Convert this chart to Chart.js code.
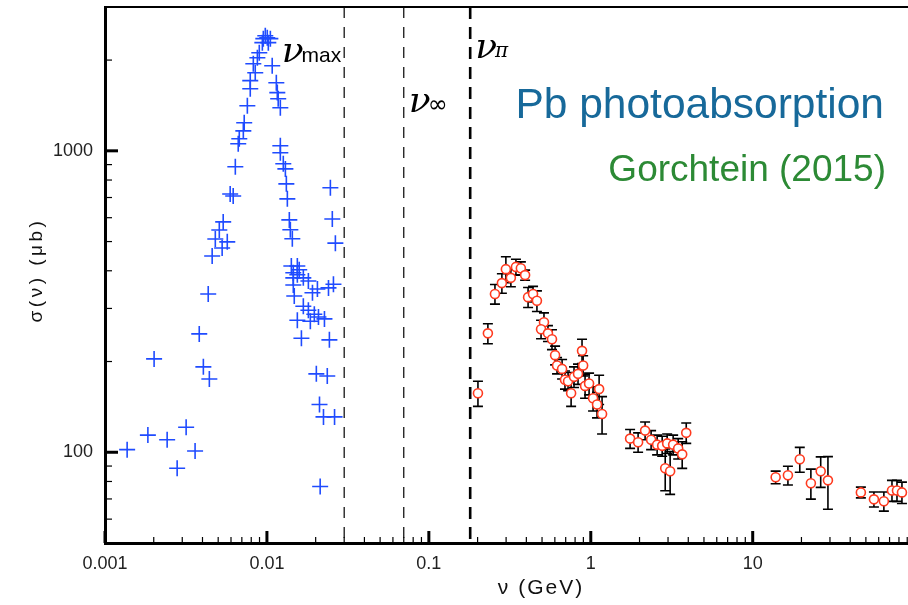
<!DOCTYPE html>
<html>
<head>
<meta charset="utf-8">
<script src="https://cdn.jsdelivr.net/npm/chart.js@4.4.1/dist/chart.umd.min.js"></script>
<style>
  html, body { margin: 0; background: #fff; overflow: hidden; }
  #wrap { width: 908px; height: 605px; position: relative; }
</style>
</head>
<body>
<div id="wrap"><canvas id="c"></canvas></div>
<script>
// Pb photoabsorption cross section, sigma(nu) in microbarn vs nu in GeV
// low-energy data (blue crosses)
const lowNu = [0.00137, 0.00184, 0.00201, 0.00242, 0.00279, 0.00317, 0.0036, 0.00382, 0.00405, 0.00441,
  0.00434, 0.00459, 0.0048, 0.00508, 0.00529, 0.00569, 0.00537, 0.00593, 0.00619, 0.00638,
  0.00665, 0.00675, 0.00715, 0.00724, 0.00757, 0.00789, 0.00789, 0.00847, 0.00824, 0.00873,
  0.00897, 0.00937, 0.0095, 0.01005, 0.00977, 0.0102, 0.0105, 0.01078, 0.01143, 0.01159,
  0.01174, 0.0121, 0.0121, 0.0121, 0.01262, 0.013, 0.01318, 0.01337, 0.01375, 0.01395,
  0.01435, 0.02465, 0.02534, 0.02647, 0.01415, 0.01541, 0.01583, 0.01455, 0.01541, 0.01678,
  0.01455, 0.01803, 0.02575, 0.024, 0.0205, 0.01911, 0.01455, 0.01475, 0.01678, 0.01803,
  0.01962, 0.02081, 0.02266, 0.01541, 0.01854, 0.01633, 0.02431, 0.02019, 0.02359, 0.02112,
  0.02235, 0.02616, 0.02132];
const lowSigma = [102, 114, 204, 110, 88.5, 121, 101, 247, 192, 175,
  335, 448, 510, 546, 476, 499, 581, 719, 708, 885,
  1055, 1096, 1165, 1239, 1411, 1607, 1709, 1815, 1945, 2037,
  2116, 2285, 2356, 2372, 2409, 2285, 2356, 1915, 1682, 1560,
  1489, 1390, 1039, 985, 906, 871, 777, 693, 590, 547,
  511, 754, 594, 494, 415, 415, 403, 394, 388, 379,
  379, 370, 361, 351, 348, 338, 359, 330, 305, 296,
  287, 281, 277, 274, 272, 239, 236, 182, 179, 144,
  131, 131, 77];

// high-energy data with error bars (red circles)
const highNu = [0.201, 0.2315, 0.256, 0.2825, 0.299, 0.321, 0.345, 0.370, 0.393, 0.410,
  0.440, 0.465, 0.514, 0.493, 0.544, 0.576, 0.602, 0.619, 0.665, 0.693,
  0.724, 0.756, 0.788, 0.834, 0.883, 0.897, 0.922, 0.976, 1.033, 1.093,
  1.126, 1.174, 1.749, 1.960, 2.165, 2.358, 2.569, 2.760, 2.963, 3.226,
  3.465, 3.669, 3.886, 2.882, 3.091, 13.86, 16.5, 19.53, 22.87, 26.3,
  29.15, 46.55, 56.06, 64.57, 72.46, 77.8, 83.5];
const highSigma = [157, 248, 335, 364, 405, 379, 412, 408, 387, 327,
  335, 318, 270, 256, 248, 237, 210, 194, 189, 174,
  172, 157, 178, 182, 217, 194, 166, 169, 151, 144,
  162, 134, 111, 108, 118, 110, 106, 105, 107, 106,
  103, 98.4, 116, 88.5, 86.5, 82.6, 83.9, 94.8, 78.9, 86.5,
  80.7, 73.6, 69.8, 68.8, 74.7, 74.7, 73.6];
const highErr = [15, 19, 25, 27, 40, 25, 25, 20, 15, 25,
  20, 25, 20, 18, 15, 18, 15, 12, 14, 12,
  12, 15, 14, 14, 20, 15, 15, 14, 14, 14,
  18, 19, 8, 8, 8, 8, 8, 8, 8, 8,
  8, 10, 9, 14, 14, 4, 6, 9, 9, 10,
  16, 3, 4, 5, 6, 6, 6];

// threshold lines: nu_max, nu_inf, nu_pi
const thresholdNu = [0.03, 0.07, 0.18];

// axes
const xRange = [0.001, 91];
const yRange = [50, 3000];
const xMajor = [0.001, 0.01, 0.1, 1, 10];
const xMajorLabels = ["0.001", "0.01", "0.1", "1", "10"];
const yMajor = [10, 100, 1000];
const yMajorLabels = ["10", "100", "1000"];

const BLUE = "#1f4bff", RED = "#ff3a1f";
const TICK_FONT = { family: "'Liberation Sans', Arial, sans-serif", size: 18 };

// log ticks: majors from arrays, minors 2..9 in each decade
function logTicks(majors, lo, hi) {
  const out = [];
  majors.forEach((m) => {
    for (let k = 1; k <= 9; k++) {
      const v = m * k;
      if (v >= lo * 0.999 && v <= hi * 1.001) out.push({ value: v });
    }
  });
  return out;
}
const isMajor = (v) => Math.abs(Math.log10(v) - Math.round(Math.log10(v))) < 1e-6;
function labelFor(v, majors, labels) {
  const i = majors.findIndex((m) => Math.abs(m - v) / m < 1e-6);
  return i >= 0 ? labels[i] : "";
}

// error bars under the circles
const errorBars = {
  id: "errorBars",
  beforeDatasetsDraw(chart) {
    const { ctx, scales: { x, y } } = chart;
    ctx.save();
    ctx.strokeStyle = "#000";
    ctx.lineWidth = 1.6;
    highNu.forEach((nu, i) => {
      const px = x.getPixelForValue(nu);
      const top = y.getPixelForValue(highSigma[i] + highErr[i]);
      const bot = y.getPixelForValue(highSigma[i] - highErr[i]);
      ctx.beginPath();
      ctx.moveTo(px, top); ctx.lineTo(px, bot);
      ctx.moveTo(px - 5, top); ctx.lineTo(px + 5, top);
      ctx.moveTo(px - 5, bot); ctx.lineTo(px + 5, bot);
      ctx.stroke();
    });
    ctx.restore();
  },
};

// inward ticks, top frame, labels and axis titles
const decor = {
  id: "decor",
  afterDraw(chart) {
    const { ctx, chartArea: a, scales: { x, y } } = chart;
    ctx.save();
    ctx.strokeStyle = "#000";
    x.ticks.forEach((t) => {
      const px = x.getPixelForValue(t.value);
      const big = isMajor(t.value);
      ctx.lineWidth = big ? 3 : 1.2;
      ctx.beginPath(); ctx.moveTo(px, a.bottom); ctx.lineTo(px, a.bottom - (big ? 12 : 6)); ctx.stroke();
    });
    y.ticks.forEach((t) => {
      const py = y.getPixelForValue(t.value);
      const big = isMajor(t.value);
      ctx.lineWidth = big ? 3 : 1.2;
      ctx.beginPath(); ctx.moveTo(a.left, py); ctx.lineTo(a.left + (big ? 13 : 7), py); ctx.stroke();
    });
    // top frame line
    ctx.lineWidth = 2;
    ctx.beginPath(); ctx.moveTo(a.left, a.top); ctx.lineTo(chart.width, a.top); ctx.stroke();

    // threshold labels
    ctx.fillStyle = "#000";
    ctx.textBaseline = "alphabetic";
    const nuFont = "italic 36px 'DejaVu Serif', serif";
    const subFont = "21px 'Liberation Sans', Arial, sans-serif";
    const x0 = x.getPixelForValue(thresholdNu[0]);
    ctx.font = subFont; ctx.textAlign = "right";
    ctx.fillText("max", x0 - 3, 62);
    const wMax = ctx.measureText("max").width;
    ctx.font = nuFont;
    ctx.fillText("ν", x0 - 1 - wMax, 62);

    const x1 = x.getPixelForValue(thresholdNu[1]);
    ctx.textAlign = "left";
    ctx.font = nuFont; ctx.fillText("ν", x1 + 5, 112);
    const wNu = ctx.measureText("ν").width;
    ctx.font = "24px 'DejaVu Sans', sans-serif"; ctx.fillText("∞", x1 + wNu + 2, 112);

    const x2 = x.getPixelForValue(thresholdNu[2]);
    ctx.font = nuFont; ctx.fillText("ν", x2 + 5, 58);
    ctx.font = "italic 20px 'DejaVu Serif', serif"; ctx.fillText("π", x2 + wNu + 3, 57);

    // headline texts
    ctx.textAlign = "right";
    ctx.fillStyle = "#17699a";
    ctx.font = "42.5px 'Liberation Sans', Arial, sans-serif";
    ctx.fillText("Pb photoabsorption", 884, 118);
    ctx.fillStyle = "#2c8a35";
    ctx.font = "37px 'Liberation Sans', Arial, sans-serif";
    ctx.fillText("Gorchtein (2015)", 886, 181);

    // axis titles
    ctx.fillStyle = "#111";
    ctx.textAlign = "center";
    ctx.font = "21px 'Liberation Sans', Arial, sans-serif";
    ctx.letterSpacing = "2px";
    ctx.fillText("ν (GeV)", 541, 594);
    ctx.font = "19px 'Liberation Sans', Arial, sans-serif";
    ctx.letterSpacing = "3.5px";
    ctx.translate(42, 270);
    ctx.rotate(-Math.PI / 2);
    ctx.fillText("σ(ν) (μb)", 0, 0);
    ctx.restore();
  },
};

const datasets = [
  {
    label: "high",
    data: highNu.map((v, i) => ({ x: v, y: highSigma[i] })),
    pointStyle: "circle", pointRadius: 4.5, pointBorderWidth: 1.6,
    pointBackgroundColor: "#fff", pointBorderColor: RED,
    showLine: false, clip: false, order: 0,
  },
  {
    label: "low",
    data: lowNu.map((v, i) => ({ x: v, y: lowSigma[i] })),
    pointStyle: "cross", pointRadius: 8, pointBorderWidth: 1.6,
    pointBorderColor: BLUE, pointBackgroundColor: BLUE,
    showLine: false, clip: false, order: 1,
  },
  ...thresholdNu.map((nu, i) => ({
    label: "t" + i,
    data: [{ x: nu, y: yRange[1] }, { x: nu, y: yRange[0] }],
    showLine: true, pointRadius: 0,
    borderColor: "#000", borderWidth: i === 2 ? 2.6 : 1.2,
    borderDash: i === 2 ? [12, 8] : [11, 9],
    order: 2,
  })),
];

new Chart(document.getElementById("c"), {
  type: "scatter",
  data: { datasets },
  plugins: [errorBars, decor],
  options: {
    responsive: true, maintainAspectRatio: false, animation: false,
    layout: { autoPadding: false, padding: { top: 7, right: 0, left: 0, bottom: 0 } },
    plugins: { legend: { display: false }, tooltip: { enabled: false } },
    scales: {
      x: {
        type: "logarithmic", min: xRange[0], max: xRange[1],
        afterFit: (s) => { s.height = 62; s.paddingLeft = 0; s.paddingRight = 0; },
        afterBuildTicks: (s) => { s.ticks = logTicks(xMajor, xRange[0], xRange[1]); },
        grid: { display: false, drawTicks: false },
        border: { display: true, color: "#000", width: 3 },
        ticks: {
          autoSkip: false, maxRotation: 0, padding: 10, color: "#222", font: TICK_FONT,
          callback: (v) => labelFor(v, xMajor, xMajorLabels),
        },
      },
      y: {
        type: "logarithmic", min: yRange[0], max: yRange[1],
        afterFit: (s) => { s.width = 105; s.paddingTop = 0; s.paddingBottom = 0; },
        afterBuildTicks: (s) => { s.ticks = logTicks(yMajor, yRange[0], yRange[1]); },
        grid: { display: false, drawTicks: false },
        border: { display: true, color: "#000", width: 3 },
        ticks: {
          autoSkip: false, padding: 12, color: "#222", font: TICK_FONT,
          callback: (v) => labelFor(v, yMajor, yMajorLabels),
        },
      },
    },
  },
});
</script>
</body>
</html>
